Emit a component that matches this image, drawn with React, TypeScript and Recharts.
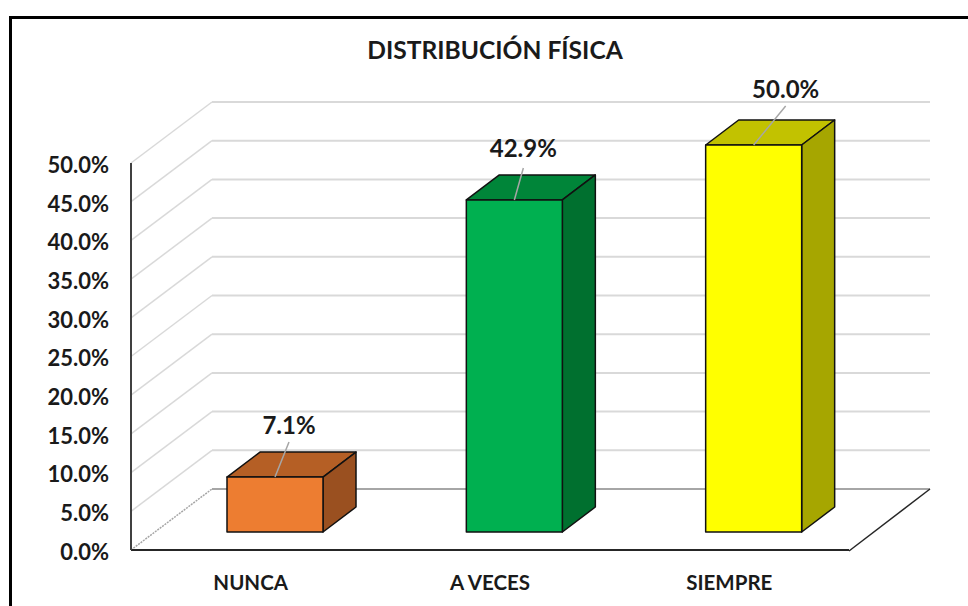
import { BarChart, Bar, XAxis, YAxis, CartesianGrid, LabelList } from 'recharts';

const categories = ['NUNCA', 'A VECES', 'SIEMPRE'];
const values = [7.1, 42.9, 50.0];
const yTicks = [0, 5, 10, 15, 20, 25, 30, 35, 40, 45, 50];

const frontColors = ['#ED7D31', '#00B050', '#FFFF00'];
const topColors = ['#B55F25', '#008539', '#C2C200'];
const sideColors = ['#9A5020', '#00702F', '#A6A600'];

// where each leader line ends, relative to the top of the bar
const leaderDx = [14, 9, 32];
const leaderDy = [-35, -32, -39];
const labelDy = [-53, -52, -57];

const data = categories.map((name, i) => ({ name, value: values[i] }));

const WIDTH = 968;
const HEIGHT = 606;
const PLOT_BOTTOM = 550;
const FONT = 'Lato, sans-serif';

// depth of the back wall and of the boxes, in pixels
const WALL_DX = 81;
const WALL_DY = -61;
const BOX_DX = 33;
const BOX_DY = -25;
// bars stand part way into the floor
const SHIFT_X = 24;
const SHIFT_Y = -18;

function GridLine(props: any) {
    const { x1, x2, y1 } = props;
    const isFloor = Math.abs(y1 - PLOT_BOTTOM) < 1;
    const stroke = isFloor ? '#A6A6A6' : '#D9D9D9';
    const backX = x1 + WALL_DX;
    const backY = y1 + WALL_DY;
    return (
        <g key={props.key}>
            <line x1={x1} y1={y1} x2={backX} y2={backY} stroke={stroke} strokeWidth={1.5} strokeDasharray={isFloor ? '2 1' : undefined} />
            <line x1={backX} y1={backY} x2={x2 + WALL_DX} y2={backY} stroke={stroke} strokeWidth={2} />
            {isFloor && <line x1={x2} y1={y1 + 1} x2={x2 + WALL_DX} y2={backY} stroke="#262626" strokeWidth={1.5} />}
        </g>
    );
}

function Box3D(props: any) {
    const { x, y, width, height, index } = props;
    const left = x + SHIFT_X;
    const right = left + width;
    const top = y + SHIFT_Y;
    const bottom = top + height;
    const edge = { stroke: '#111', strokeWidth: 1.5, strokeLinejoin: 'round' as const };
    return (
        <g>
            <polygon
                points={`${left},${top} ${left + BOX_DX},${top + BOX_DY} ${right + BOX_DX},${top + BOX_DY} ${right},${top}`}
                fill={topColors[index]}
                {...edge}
            />
            <polygon
                points={`${right},${top} ${right + BOX_DX},${top + BOX_DY} ${right + BOX_DX},${bottom + BOX_DY} ${right},${bottom}`}
                fill={sideColors[index]}
                {...edge}
            />
            <rect x={left} y={top} width={width} height={height} fill={frontColors[index]} {...edge} />
        </g>
    );
}

function BarLabel(props: any) {
    const { x, y, width, index, value } = props;
    const cx = x + width / 2 + SHIFT_X;
    const top = y + SHIFT_Y;
    return (
        <g>
            <line x1={cx} y1={top} x2={cx + leaderDx[index]} y2={top + leaderDy[index]} stroke="#A6A6A6" strokeWidth={1.5} />
            <text
                x={cx + leaderDx[index]}
                y={top + labelDy[index]}
                textAnchor="middle"
                dominantBaseline="central"
                fontFamily={FONT}
                fontWeight={700}
                fontSize={24}
                fill="#1A1A1A"
            >
                {Number(value).toFixed(1)}%
            </text>
        </g>
    );
}

export default function App() {
    return (
        <div style={{ position: 'absolute', left: 0, top: 0, width: WIDTH, height: HEIGHT, background: '#fff', overflow: 'hidden' }}>
            <div style={{ position: 'absolute', left: 9, top: 16, right: -10, bottom: -10, borderLeft: '3px solid #000', borderTop: '3px solid #000' }} />
            <div
                style={{
                    position: 'absolute',
                    left: 12,
                    width: 966,
                    top: 33,
                    textAlign: 'center',
                    fontFamily: FONT,
                    fontWeight: 700,
                    fontSize: 24.6,
                    lineHeight: '34px',
                    color: '#1A1A1A',
                }}
            >
                DISTRIBUCIÓN FÍSICA
            </div>
            <div style={{ position: 'absolute', left: 0, top: 0 }}>
                <BarChart width={WIDTH} height={HEIGHT} data={data} margin={{ top: 163, right: 119, bottom: 6, left: 21 }} barSize={96}>
                    <CartesianGrid vertical={false} horizontal={(p: any) => <GridLine {...p} />} />
                    <XAxis
                        dataKey="name"
                        height={50}
                        axisLine={{ stroke: '#262626', strokeWidth: 2 }}
                        tickLine={false}
                        tickMargin={19}
                        tick={{ fill: '#1A1A1A', fontSize: 20.5, fontWeight: 700, fontFamily: FONT }}
                    />
                    <YAxis
                        width={110}
                        domain={[0, 50]}
                        ticks={yTicks}
                        interval={0}
                        axisLine={{ stroke: '#404040', strokeWidth: 2 }}
                        tickLine={false}
                        tickMargin={16}
                        dy={2}
                        tickFormatter={(v: number) => `${v.toFixed(1)}%`}
                        tick={{ fill: '#1A1A1A', fontSize: 22, fontWeight: 700, fontFamily: FONT, dy: 2 }}
                    />
                    <Bar dataKey="value" isAnimationActive={false} shape={<Box3D />}>
                        <LabelList dataKey="value" content={<BarLabel />} />
                    </Bar>
                </BarChart>
            </div>
        </div>
    );
}
